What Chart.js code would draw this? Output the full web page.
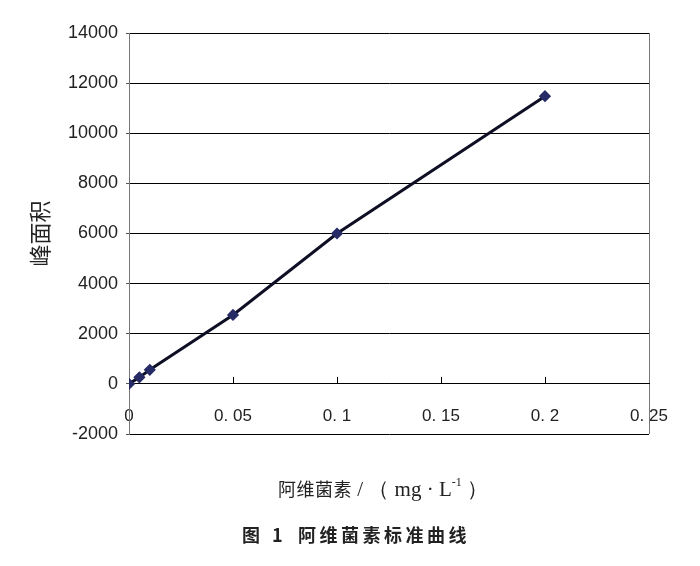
<!DOCTYPE html>
<html>
<head>
<meta charset="utf-8">
<script src="https://cdn.jsdelivr.net/npm/chart.js@4/dist/chart.umd.min.js"></script>
<style>
  html, body { margin: 0; padding: 0; background: #fff; }
  #wrap { position: relative; width: 700px; height: 566px; }
  #xtitle {
    position: absolute; left: 278px; top: 475px; white-space: nowrap;
    font-family: "Liberation Serif", serif; font-size: 21px; color: #222;
  }
  #xtitle .cn { font-family: "Noto Sans CJK SC", sans-serif; font-size: 18px; letter-spacing: 0.5px; }
  .cap {
    position: absolute; top: 521px; white-space: nowrap;
    font-family: "Noto Sans CJK SC", sans-serif; font-weight: bold; font-size: 18px; color: #222;
  }
</style>
</head>
<body>
<div id="wrap">
  <canvas id="chart" width="700" height="566"></canvas>
  <div id="xtitle"><span class="cn">阿维菌素</span> / （ mg · L<sup style="font-size:12px;position:relative;top:-2px">-1</sup> ）</div>
  <div class="cap" style="left:242px;letter-spacing:4px">图 1</div>
  <div class="cap" style="left:298px;letter-spacing:3.5px">阿维菌素标准曲线</div>
</div>
<script>
const concentrations = [0, 0.005, 0.01, 0.05, 0.1, 0.2];
const peakAreas = [0, 260, 560, 2750, 6000, 11480];
const xTickLabels = ['0', '0. 05', '0. 1', '0. 15', '0. 2', '0. 25'];
const yTitle = '峰面积';

// small upward tick marks on the x axis, like the original
const innerTicks = {
  id: 'innerTicks',
  afterDraw(chart) {
    const x = chart.scales.x, y = chart.scales.y;
    const ctx = chart.ctx;
    const y0 = y.getPixelForValue(0);
    ctx.save();
    ctx.strokeStyle = '#000';
    ctx.lineWidth = 1;
    x.ticks.forEach(t => {
      if (t.value <= 0 || t.value >= 0.25) return;
      const px = Math.round(x.getPixelForValue(t.value)) + 0.5;
      ctx.beginPath();
      ctx.moveTo(px, y0);
      ctx.lineTo(px, y0 - 7);
      ctx.stroke();
    });
    ctx.restore();
  }
};

new Chart(document.getElementById('chart'), {
  type: 'scatter',
  data: {
    datasets: [{
      data: concentrations.map((c, i) => ({ x: c, y: peakAreas[i] })),
      showLine: true,
      borderColor: '#0e0f24',
      borderWidth: 3,
      pointStyle: 'rectRot',
      pointRadius: 4,
      pointBackgroundColor: '#262b66',
      pointBorderColor: '#262b66'
    }]
  },
  options: {
    responsive: false,
    animation: false,
    layout: { padding: { left: 22, top: 33, right: 51, bottom: 132 } },
    plugins: { legend: { display: false }, tooltip: { enabled: false } },
    scales: {
      x: {
        type: 'linear',
        position: { y: 0 },
        min: 0,
        max: 0.25,
        ticks: {
          stepSize: 0.05,
          padding: 22,
          color: '#222',
          font: { family: 'Liberation Sans', size: 17 },
          callback: (v, i) => xTickLabels[i]
        },
        grid: {
          drawTicks: false,
          color: ctx => (ctx.tick && ctx.tick.value >= 0.25 ? '#777' : 'rgba(0,0,0,0)')
        },
        border: { display: true, color: '#000' }
      },
      y: {
        min: -2000,
        max: 14000,
        afterFit: s => { s.width = 107; },
        ticks: {
          stepSize: 2000,
          padding: 8,
          color: '#222',
          font: { family: 'Liberation Sans', size: 18 },
          callback: v => String(v)
        },
        grid: { color: '#000', tickColor: '#555', tickLength: 3 },
        border: { display: true, color: '#777' },
        title: {
          display: true,
          text: yTitle,
          color: '#222',
          font: { family: 'Noto Sans CJK SC', size: 22 },
          padding: { top: 4, bottom: 0 }
        }
      }
    }
  },
  plugins: [innerTicks]
});
</script>
</body>
</html>
